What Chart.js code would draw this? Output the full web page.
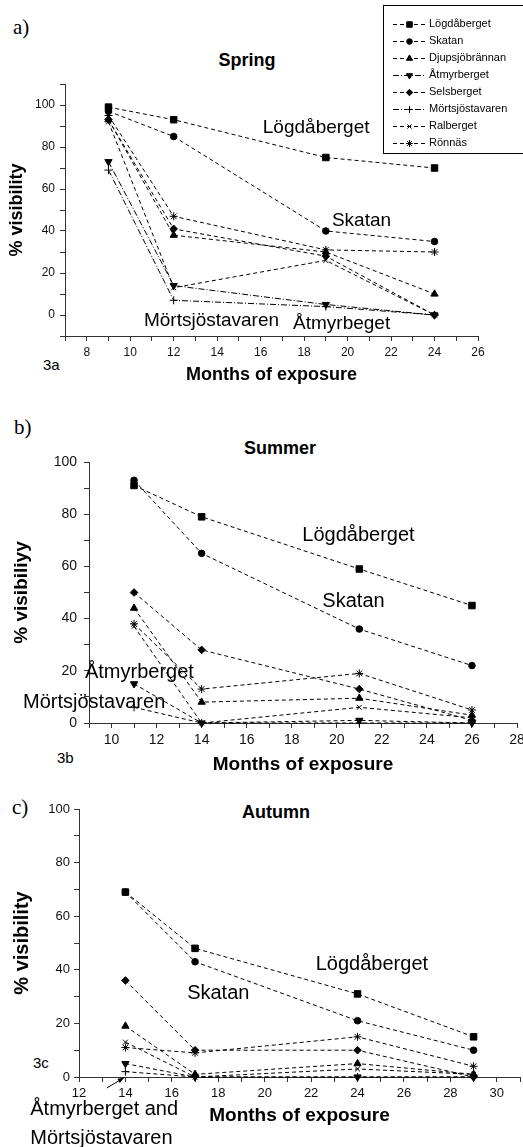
<!DOCTYPE html>
<html>
<head>
<meta charset="utf-8">
<script src="https://cdn.jsdelivr.net/npm/chart.js@4"></script>
<style>
body{margin:0;width:523px;height:1147px;overflow:hidden;background:#fff;position:relative;font-family:"Liberation Sans",Arial,sans-serif;color:#000}
canvas{position:absolute;left:0}
.t{position:absolute;white-space:nowrap;line-height:1;transform:translateY(-50%)}
.c{transform:translate(-50%,-50%)}
.serif{font-family:"Liberation Serif","Times New Roman",serif;font-size:21px}
.ttl{font-weight:bold;font-size:18px}
.fig{font-size:15px}
</style>
</head>
<body>
<div class="t serif" style="left:13px;top:27px">a)</div>
<div class="t serif" style="left:14px;top:427px">b)</div>
<div class="t serif" style="left:12px;top:807px">c)</div>
<div class="t c ttl" style="left:247px;top:60px">Spring</div>
<div class="t c ttl" style="left:280px;top:448px">Summer</div>
<div class="t c ttl" style="left:276px;top:812px">Autumn</div>
<div class="t fig" style="left:43px;top:364px">3a</div>
<div class="t fig" style="left:57px;top:757px">3b</div>
<div class="t fig" style="left:33px;top:1062px">3c</div>

<canvas id="spring" width="523" height="388" style="top:0;width:523px;height:388px"></canvas>
<canvas id="summer" width="540" height="378" style="top:400px;width:540px;height:378px"></canvas>
<canvas id="autumn" width="540" height="367" style="top:780px;width:540px;height:367px"></canvas>

<script>
const sites = ["Lögdåberget", "Skatan", "Djupsjöbrännan", "Åtmyrberget", "Selsberget", "Mörtsjöstavaren", "Ralberget", "Rönnäs"];

// months of exposure and % visibility, one row per site (same order as sites)
const springMonths = [9, 12, 19, 24];
const springVis = [
    [99, 93, 75, 70],
    [97, 85, 40, 35],
    [93, 38, 30, 10],
    [73, 14, 5, 0],
    [93, 41, 28, 0],
    [69, 7, 4, 0],
    [92, 13, 26, 0],
    [95, 47, 31, 30],
];
const summerMonths = [11, 14, 21, 26];
const summerVis = [
    [91, 79, 59, 45],
    [93, 65, 36, 22],
    [44, 8, 9.5, 3],
    [15, 0, 1, 0],
    [50, 28, 13, 1],
    [6, 0, 0, 0],
    [37, 0, 6, 2],
    [38, 13, 19, 5],
];
const autumnMonths = [14, 17, 24, 29];
const autumnVis = [
    [69, 48, 31, 15],
    [69, 43, 21, 10],
    [19, 1, 5, 1],
    [5, 0, 0, 0],
    [36, 10, 10, 0],
    [2, 0, 0, 0],
    [13, 0, 3, 1],
    [11, 9, 15, 4],
];

const yLabels = [0, 20, 40, 60, 80, 100];

// marker styles per site
const markers = ["rect", "circle", "triangle", "triangle", "rectRot", "cross", "crossRot", "star"];
const markerTurn = [0, 0, 0, 180, 0, 0, 0, 0];
const markerSize = [4.6, 3.3, 4.2, 4.2, 3.8, 4, 3.5, 4];
const dashed = [4, 3];
const dashDot = [6, 2, 1, 2];

const FONT = '"Liberation Sans", Arial, sans-serif';
Chart.defaults.font.family = FONT;
Chart.defaults.color = "#000";

const makeSets = (months, vals, useDashDot) =>
    sites.map((s, i) => ({
        label: s,
        data: months.map((m, j) => ({ x: m, y: vals[i][j] })),
        borderColor: "#000",
        backgroundColor: "#000",
        borderWidth: 1,
        borderDash: useDashDot && (i === 3 || i === 5) ? dashDot : dashed,
        pointStyle: markers[i],
        pointRotation: markerTurn[i],
        pointRadius: markerSize[i],
        pointBorderWidth: 1,
        pointBackgroundColor: "#000",
        pointBorderColor: "#000",
        tension: 0,
        clip: false,
    }));

// free text labels, placed in data units
const notesPlugin = (notes, arrow) => ({
    id: "notes",
    afterDraw(chart) {
        const { ctx } = chart;
        const { x, y } = chart.scales;
        ctx.save();
        ctx.fillStyle = "#000";
        ctx.strokeStyle = "#000";
        ctx.textBaseline = "middle";
        ctx.textAlign = "left";
        notes.forEach((n) => {
            ctx.font = n.size + "px " + FONT;
            ctx.fillText(n.text, x.getPixelForValue(n.x), y.getPixelForValue(n.y));
        });
        if (arrow) {
            const x0 = x.getPixelForValue(arrow[0]), y0 = y.getPixelForValue(arrow[1]);
            const x1 = x.getPixelForValue(arrow[2]), y1 = y.getPixelForValue(arrow[3]);
            const a = Math.atan2(y1 - y0, x1 - x0);
            ctx.lineWidth = 1;
            ctx.beginPath();
            ctx.moveTo(x0, y0);
            ctx.lineTo(x1, y1);
            ctx.stroke();
            ctx.beginPath();
            ctx.moveTo(x1, y1);
            ctx.lineTo(x1 - 7 * Math.cos(a - 0.35), y1 - 7 * Math.sin(a - 0.35));
            ctx.lineTo(x1 - 7 * Math.cos(a + 0.35), y1 - 7 * Math.sin(a + 0.35));
            ctx.closePath();
            ctx.fill();
        }
        ctx.restore();
    },
});

// boxed legend in the top right corner of panel a
const legendBox = {
    id: "legendBox",
    afterDraw(chart) {
        const ctx = chart.ctx;
        ctx.save();
        ctx.strokeStyle = "#000";
        ctx.fillStyle = "#000";
        ctx.lineWidth = 1;
        ctx.strokeRect(383.5, 5.5, 150, 148);
        ctx.font = "11px " + FONT;
        ctx.textBaseline = "middle";
        chart.data.datasets.forEach((ds, i) => {
            const yy = 24 + i * 17;
            ctx.setLineDash(ds.borderDash);
            ctx.beginPath();
            ctx.moveTo(393, yy + 0.5);
            ctx.lineTo(426, yy + 0.5);
            ctx.stroke();
            ctx.setLineDash([]);
            Chart.helpers.drawPoint(ctx, {
                pointStyle: ds.pointStyle,
                rotation: ds.pointRotation,
                radius: ds.pointRadius * 0.85,
                borderWidth: 1,
            }, 409.5, yy + 0.5);
            ctx.fillText(ds.label, 429, yy);
        });
        ctx.restore();
    },
};

function panel(id, months, vals, o) {
    return new Chart(document.getElementById(id), {
        type: "line",
        data: { datasets: makeSets(months, vals, o.dashDot) },
        plugins: o.plugins,
        options: {
            responsive: false,
            animation: false,
            events: [],
            layout: { padding: { left: 0, top: o.top, right: o.right, bottom: 0 } },
            plugins: { legend: { display: false }, tooltip: { enabled: false } },
            scales: {
                x: {
                    type: "linear",
                    min: o.xMin,
                    max: o.xMax,
                    afterFit: (s) => { s.height = o.xh; s.paddingLeft = 0; s.paddingRight = 0; },
                    ticks: {
                        stepSize: 1,
                        maxTicksLimit: 100,
                        autoSkip: false,
                        maxRotation: 0,
                        padding: o.xPad,
                        color: "#111",
                        font: { size: o.tickSize },
                        callback: (v) => (v % 2 === 0 ? v : ""),
                    },
                    grid: { drawOnChartArea: false, drawTicks: true, tickLength: 5, color: "#333" },
                    border: { display: true, color: "#333", width: 1 },
                    title: {
                        display: true,
                        text: "Months of exposure",
                        color: "#000",
                        font: { size: o.xTitleSize, weight: "bold" },
                        padding: { top: 0, bottom: o.xTitlePad },
                    },
                },
                y: {
                    min: o.yMin,
                    max: o.yMax,
                    afterFit: (s) => { s.width = o.yw; s.paddingTop = 0; s.paddingBottom = 0; },
                    ticks: {
                        stepSize: 10,
                        maxTicksLimit: 100,
                        autoSkip: false,
                        padding: o.yPad,
                        color: "#111",
                        font: { size: o.tickSize },
                        callback: (v) => (yLabels.includes(v) ? v : ""),
                    },
                    grid: { drawOnChartArea: false, drawTicks: true, tickLength: 5, color: "#333" },
                    border: { display: true, color: "#333", width: 1 },
                    title: {
                        display: true,
                        text: o.yTitle,
                        color: "#000",
                        font: { size: o.yTitleSize, weight: "bold" },
                        padding: { top: o.yTitlePad, bottom: 0 },
                    },
                },
            },
        },
    });
}

panel("spring", springMonths, springVis, {
    dashDot: true,
    top: 84, right: 45, xh: 52, yw: 65,
    xMin: 7, xMax: 26, yMin: -10, yMax: 110,
    tickSize: 12, xPad: 4, yPad: 5,
    xTitleSize: 18, xTitlePad: 2,
    yTitle: "% visibility", yTitleSize: 18, yTitlePad: 6,
    plugins: [legendBox, notesPlugin([
        { text: "Lögdåberget", x: 16.1, y: 89, size: 19 },
        { text: "Skatan", x: 19.28, y: 45, size: 19 },
        { text: "Mörtsjöstavaren", x: 10.63, y: -2.9, size: 19 },
        { text: "Åtmyrbeget", x: 17.49, y: -4.3, size: 19 },
    ])],
});

panel("summer", summerMonths, summerVis, {
    dashDot: false,
    top: 62, right: 23, xh: 55, yw: 89,
    xMin: 9, xMax: 28, yMin: 0, yMax: 100,
    tickSize: 14, xPad: 4, yPad: 7,
    xTitleSize: 19, xTitlePad: 2,
    yTitle: "% visibiliyy", yTitleSize: 19, yTitlePad: 10,
    plugins: [notesPlugin([
        { text: "Lögdåberget", x: 18.47, y: 72, size: 20 },
        { text: "Skatan", x: 19.36, y: 46.4, size: 20 },
        { text: "Åtmyrberget", x: 8.82, y: 19.5, size: 20 },
        { text: "Mörtsjöstavaren", x: 6.07, y: 8, size: 20 },
    ])],
});

panel("autumn", autumnMonths, autumnVis, {
    dashDot: false,
    top: 29, right: 20, xh: 70, yw: 79,
    xMin: 12, xMax: 31, yMin: 0, yMax: 100,
    tickSize: 13, xPad: 4, yPad: 4,
    xTitleSize: 19, xTitlePad: 20,
    yTitle: "% visibility", yTitleSize: 20, yTitlePad: 10,
    plugins: [notesPlugin([
        { text: "Lögdåberget", x: 22.2, y: 41.8, size: 20 },
        { text: "Skatan", x: 16.66, y: 31.3, size: 20 },
        { text: "Åtmyrberget and", x: 9.9, y: -12.3, size: 20 },
        { text: "Mörtsjöstavaren", x: 9.9, y: -22.8, size: 20 },
    ], [13.2, -4.1, 13.95, -0.2])],
});
</script>
</body>
</html>
